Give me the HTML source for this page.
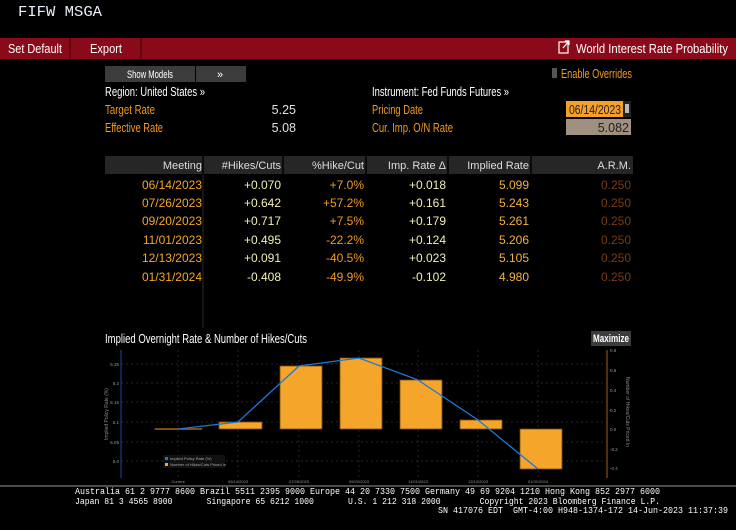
<!DOCTYPE html>
<html><head><meta charset="utf-8"><style>
html,body{margin:0;padding:0;background:#000;width:736px;height:530px;overflow:hidden}
svg{display:block}
text{font-family:"Liberation Sans",sans-serif}
text.m,.m text{font-family:"Liberation Mono",monospace}
</style></head><body>
<svg width="736" height="530" viewBox="0 0 736 530" xmlns="http://www.w3.org/2000/svg">
<rect width="736" height="530" fill="#000"/>
<text x="18" y="16" fill="#e8eef8" font-size="15" class="m" textLength="84" lengthAdjust="spacingAndGlyphs">FIFW MSGA</text>
<rect x="0" y="38" width="736" height="21" fill="#8a0a1a"/>
<line x1="70" y1="38" x2="70" y2="59" stroke="#3a0008"/>
<line x1="141" y1="38" x2="141" y2="59" stroke="#3a0008"/>
<text x="8" y="53" fill="#fff" font-size="13" textLength="54" lengthAdjust="spacingAndGlyphs">Set Default</text>
<text x="90" y="53" fill="#fff" font-size="13" textLength="32" lengthAdjust="spacingAndGlyphs">Export</text>
<rect x="559" y="42" width="9" height="11" fill="none" stroke="#fff" stroke-width="1.2"/>
<path d="M563 48 L569 41 M565 41 L569 41 L569 45" stroke="#fff" stroke-width="1.2" fill="none"/>
<text x="576" y="53" fill="#fff" font-size="13" textLength="152" lengthAdjust="spacingAndGlyphs">World Interest Rate Probability</text>
<rect x="105" y="66" width="90" height="16" fill="#3c3c3c"/>
<rect x="196" y="66" width="50" height="16" fill="#3c3c3c"/>
<text x="127" y="78" fill="#fff" font-size="11" textLength="46" lengthAdjust="spacingAndGlyphs">Show Models</text>
<text x="217" y="78" fill="#fff" font-size="11">»</text>
<rect x="552" y="68" width="5" height="10" fill="#555"/>
<text x="561" y="78" fill="#f39a1e" font-size="12.5" textLength="71" lengthAdjust="spacingAndGlyphs">Enable Overrides</text>
<text x="105" y="96" fill="#fff" font-size="12.5" textLength="100" lengthAdjust="spacingAndGlyphs">Region: United States »</text>
<text x="372" y="96" fill="#fff" font-size="12.5" textLength="137" lengthAdjust="spacingAndGlyphs">Instrument: Fed Funds Futures »</text>
<text x="105" y="114" fill="#f39a1e" font-size="12.5" textLength="50" lengthAdjust="spacingAndGlyphs">Target Rate</text>
<text x="105" y="132" fill="#f39a1e" font-size="12.5" textLength="58" lengthAdjust="spacingAndGlyphs">Effective Rate</text>
<text x="296" y="114" fill="#e0e0e0" font-size="12.5" text-anchor="end">5.25</text>
<text x="296" y="132" fill="#e0e0e0" font-size="12.5" text-anchor="end">5.08</text>
<text x="372" y="114" fill="#f39a1e" font-size="12.5" textLength="51" lengthAdjust="spacingAndGlyphs">Pricing Date</text>
<text x="372" y="132" fill="#f39a1e" font-size="12.5" textLength="81" lengthAdjust="spacingAndGlyphs">Cur. Imp. O/N Rate</text>
<rect x="566" y="101" width="57" height="16" fill="#f5a02a"/>
<rect x="623" y="101" width="8" height="16" fill="#222"/>
<rect x="625" y="104" width="4" height="9" fill="#bbb"/>
<text x="569" y="114" fill="#222" font-size="12.5" textLength="52" lengthAdjust="spacingAndGlyphs">06/14/2023</text>
<rect x="566" y="119" width="65" height="16" fill="#a09080"/>
<text x="629" y="132" fill="#222" font-size="12.5" text-anchor="end">5.082</text>
<rect x="105" y="156" width="528" height="18" fill="#262626"/>
<g stroke="#000" stroke-width="1.5">
<line x1="203" y1="156" x2="203" y2="174"/><line x1="283" y1="156" x2="283" y2="174"/>
<line x1="366" y1="156" x2="366" y2="174"/><line x1="448" y1="156" x2="448" y2="174"/>
<line x1="531" y1="156" x2="531" y2="174"/></g>
<line x1="203" y1="174" x2="203" y2="328" stroke="#2a2a2a"/>
<g fill="#ddd" font-size="11" text-anchor="end">
<text x="202" y="169">Meeting</text><text x="281" y="169">#Hikes/Cuts</text><text x="364" y="169">%Hike/Cut</text>
<text x="446" y="169">Imp. Rate Δ</text><text x="529" y="169">Implied Rate</text><text x="631" y="169">A.R.M.</text></g>
<g font-size="12" text-anchor="end">
<g fill="#f5a623">
<text x="202" y="189">06/14/2023</text><text x="202" y="207">07/26/2023</text><text x="202" y="225">09/20/2023</text>
<text x="202" y="244">11/01/2023</text><text x="202" y="262">12/13/2023</text><text x="202" y="281">01/31/2024</text></g>
<g fill="#f2f0b0">
<text x="281" y="189">+0.070</text><text x="281" y="207">+0.642</text><text x="281" y="225">+0.717</text>
<text x="281" y="244">+0.495</text><text x="281" y="262">+0.091</text><text x="281" y="281">-0.408</text>
<text x="446" y="189">+0.018</text><text x="446" y="207">+0.161</text><text x="446" y="225">+0.179</text>
<text x="446" y="244">+0.124</text><text x="446" y="262">+0.023</text><text x="446" y="281">-0.102</text></g>
<g fill="#f39a1e">
<text x="364" y="189">+7.0%</text><text x="364" y="207">+57.2%</text><text x="364" y="225">+7.5%</text>
<text x="364" y="244">-22.2%</text><text x="364" y="262">-40.5%</text><text x="364" y="281">-49.9%</text></g>
<g fill="#f5b040">
<text x="529" y="189">5.099</text><text x="529" y="207">5.243</text><text x="529" y="225">5.261</text>
<text x="529" y="244">5.206</text><text x="529" y="262">5.105</text><text x="529" y="281">4.980</text></g>
<g fill="#7a3a12">
<text x="631" y="189">0.250</text><text x="631" y="207">0.250</text><text x="631" y="225">0.250</text>
<text x="631" y="244">0.250</text><text x="631" y="262">0.250</text><text x="631" y="281">0.250</text></g>
</g>
<text x="105" y="343" fill="#fff" font-size="13" textLength="202" lengthAdjust="spacingAndGlyphs">Implied Overnight Rate &amp; Number of Hikes/Cuts</text>
<rect x="591" y="331" width="40" height="15" fill="#3c3c3c"/>
<text x="611" y="342" fill="#fff" font-size="11" text-anchor="middle" font-weight="bold" textLength="36" lengthAdjust="spacingAndGlyphs">Maximize</text>
<g stroke="#333" stroke-dasharray="2,3" stroke-width="0.7">
<line x1="178" y1="350" x2="178" y2="478"/><line x1="238" y1="350" x2="238" y2="478"/>
<line x1="299" y1="350" x2="299" y2="478"/><line x1="359" y1="350" x2="359" y2="478"/>
<line x1="418" y1="350" x2="418" y2="478"/><line x1="478" y1="350" x2="478" y2="478"/>
<line x1="538" y1="350" x2="538" y2="478"/>
<line x1="121" y1="364" x2="607" y2="364"/><line x1="121" y1="383" x2="607" y2="383"/>
<line x1="121" y1="402" x2="607" y2="402"/><line x1="121" y1="422" x2="607" y2="422"/>
<line x1="121" y1="442" x2="607" y2="442"/><line x1="121" y1="461" x2="607" y2="461"/>
</g>
<line x1="121" y1="350" x2="121" y2="478" stroke="#1a4a90"/>
<line x1="607" y1="350" x2="607" y2="478" stroke="#a06010"/>
<g fill="#999" font-size="4.5" text-anchor="end">
<text x="119" y="366">5.25</text><text x="119" y="385">5.2</text><text x="119" y="404">5.15</text>
<text x="119" y="424">5.1</text><text x="119" y="444">5.05</text><text x="119" y="463">5.0</text></g>
<g fill="#999" font-size="4.5">
<text x="610" y="352">0.8</text><text x="610" y="372">0.6</text><text x="610" y="392">0.4</text><text x="610" y="412">0.2</text>
<text x="610" y="431">0.0</text><text x="610" y="451">-0.2</text><text x="610" y="470">-0.4</text></g>
<text transform="translate(108,414) rotate(-90)" fill="#888" font-size="5" text-anchor="middle">Implied Policy Rate (%)</text>
<text transform="translate(626,412) rotate(90)" fill="#888" font-size="5" text-anchor="middle">Number of Hikes/Cuts Priced In</text>
<g fill="#f5a52a" stroke="#7a4a10" stroke-width="0.8">
<rect x="155" y="428.5" width="47" height="1"/>
<rect x="219" y="422" width="43" height="7"/>
<rect x="280" y="366" width="42" height="63"/>
<rect x="340" y="358" width="42" height="71"/>
<rect x="400" y="380" width="42" height="49"/>
<rect x="460" y="420" width="42" height="9"/>
<rect x="520" y="429" width="42" height="40"/></g>
<polyline points="178,429 238,422 299,366 359,358 418,380 478,420 538,469" fill="none" stroke="#1a78d8" stroke-width="1.3"/>
<rect x="163" y="455" width="62" height="13" fill="#111"/>
<rect x="165" y="457" width="3" height="3" fill="#1a78d8"/><rect x="165" y="463" width="3" height="3" fill="#f5a52a"/>
<text x="170" y="460" fill="#aaa" font-size="4">Implied Policy Rate (%)</text>
<text x="170" y="466" fill="#aaa" font-size="4">Number of Hikes/Cuts Priced In</text>
<g fill="#999" font-size="4" text-anchor="middle">
<text x="178" y="483">Current</text><text x="238" y="483">06/14/2023</text><text x="299" y="483">07/26/2023</text>
<text x="359" y="483">09/20/2023</text><text x="418" y="483">11/01/2023</text><text x="478" y="483">12/13/2023</text><text x="538" y="483">01/31/2024</text></g>
<line x1="0" y1="486" x2="736" y2="486" stroke="#999"/>
<g fill="#fff" font-size="9" class="m">
<text x="75" y="494" textLength="585" lengthAdjust="spacingAndGlyphs" xml:space="preserve">Australia 61 2 9777 8600 Brazil 5511 2395 9000 Europe 44 20 7330 7500 Germany 49 69 9204 1210 Hong Kong 852 2977 6000</text>
<text x="75" y="504" textLength="585" lengthAdjust="spacingAndGlyphs" xml:space="preserve">Japan 81 3 4565 8900       Singapore 65 6212 1000       U.S. 1 212 318 2000        Copyright 2023 Bloomberg Finance L.P.</text>
<text x="438" y="513" textLength="290" lengthAdjust="spacingAndGlyphs" xml:space="preserve">SN 417076 EDT  GMT-4:00 H948-1374-172 14-Jun-2023 11:37:39</text>
</g>
</svg>
</body></html>
